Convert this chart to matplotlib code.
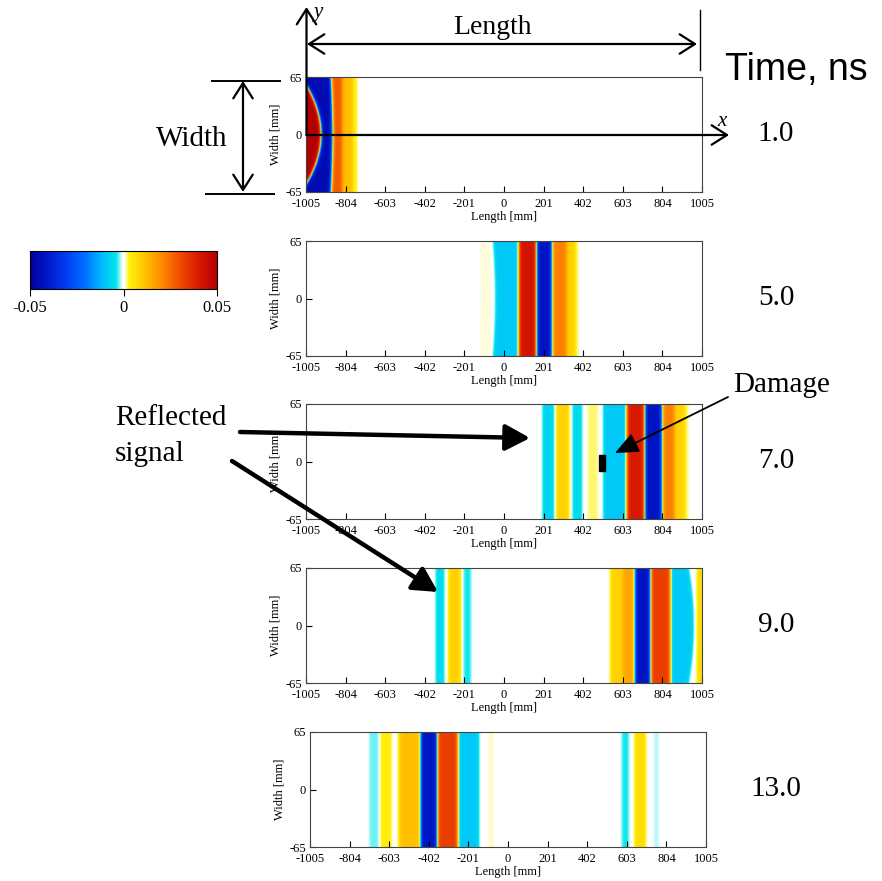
import numpy as np
import matplotlib
matplotlib.use("Agg")
import matplotlib.pyplot as plt
from matplotlib.colors import LinearSegmentedColormap
from matplotlib.patches import Rectangle, FancyArrowPatch

plt.rcParams['font.family'] = ['Liberation Serif', 'DejaVu Serif']
plt.rcParams['axes.unicode_minus'] = False

W, H = 882, 881

# ---- data -----------------------------------------------------------
# each snapshot: (edge at y=0 in mm, level to the right of the edge, edge bend at |y|=65)
times = ['1.0', '5.0', '7.0', '9.0', '13.0']
start_levels = [0.05, 0.0, 0.0, 0.0, 0.0]
bands_t1 = [(-929, -0.045, -100), (-872, 0.028, -8), (-822, 0.012, 0),
            (-768, 0.003, 0), (-745, 0.0, 0)]
bands_t5 = [(-125, 0.0008, 0), (-62, 0.0, 0), (-40, -0.009, -12),
            (76, 0.042, 0), (166, -0.042, 0), (243, 0.022, 0),
            (318, 0.009, 0), (362, 0.0015, 0), (380, 0.0, 0)]
bands_t7 = [(198, -0.007, 0), (252, 0.0, 0), (268, 0.009, 0), (328, 0.0, 0),
            (350, -0.006, 0), (395, 0.0, 0), (425, 0.002, 0), (478, 0.0, 0),
            (508, -0.009, 0), (624, 0.04, 0), (716, -0.042, 0),
            (802, 0.022, 0), (866, 0.009, 0), (918, 0.0015, 0), (940, 0.0, 0)]
bands_t9 = [(-345, -0.006, 0), (-305, 0.0, 0), (-280, 0.009, 0), (-222, 0.0, 0),
            (-205, -0.004, 0), (-168, 0.0, 0), (543, 0.009, 0), (604, 0.016, 0),
            (666, -0.042, 0), (744, 0.033, 0), (845, -0.009, 0),
            (960, 0.0, -25), (982, 0.007, 0)]
bands_t13 = [(-705, -0.0025, 0), (-655, 0.0, 0), (-648, 0.004, 0), (-592, 0.0, 0),
             (-552, 0.012, 0), (-442, -0.042, 0), (-360, 0.033, 0),
             (-255, -0.009, 0), (-150, 0.0, 0), (-100, 0.0012, 0), (-72, 0.0, 0),
             (578, -0.004, 0), (614, 0.0, 0), (645, 0.007, 0), (698, 0.0, 0),
             (740, -0.0015, 0), (768, 0.0, 0)]
all_bands = [bands_t1, bands_t5, bands_t7, bands_t9, bands_t13]

damage = (482, -11, 32, 18)  # x, y, width, height in mm
xticks = [-1005, -804, -603, -402, -201, 0, 201, 402, 603, 804, 1005]
yticks = [-65, 0, 65]
cbar_ticks = [-0.05, 0, 0.05]

# colormap: blue - cyan - white - yellow - red
cm_vals = [-0.05, -0.04, -0.03, -0.02, -0.012, -0.004, -0.0004, 0.0004,
           0.003, 0.01, 0.02, 0.03, 0.04, 0.05]
cm_cols = [(0.0, 0.0, 0.6), (0.0, 0.1, 0.8), (0.0, 0.25, 0.95), (0.0, 0.45, 1.0),
           (0.0, 0.72, 1.0), (0.0, 0.9, 0.92), (1, 1, 1), (1, 1, 1),
           (1.0, 0.95, 0.05), (1.0, 0.8, 0.0), (1.0, 0.55, 0.0), (0.95, 0.3, 0.0),
           (0.85, 0.1, 0.0), (0.7, 0.0, 0.0)]
cmap = LinearSegmentedColormap.from_list(
    'wave', [((v + 0.05) / 0.1, c) for v, c in zip(cm_vals, cm_cols)], N=2048)


def fr(x, y):
    return (x / W, 1 - y / H)


def rect(l, t, r, b):
    return [l / W, 1 - b / H, (r - l) / W, (b - t) / H]


fig = plt.figure(figsize=(W / 100, H / 100), dpi=100)

panel_px = [(306, 77, 702, 192), (306, 241, 702, 356), (306, 404, 702, 519),
            (306, 568, 702, 683), (310, 732, 706, 847)]
panel_mid = [134, 298, 461, 625, 789]

xg = np.linspace(-1005, 1005, 1200)
yg = np.linspace(-65, 65, 120)
X, Y = np.meshgrid(xg, yg)

im = None
for i, bands in enumerate(all_bands):
    ax = fig.add_axes(rect(*panel_px[i]))
    field = np.full(X.shape, start_levels[i])
    prev = start_levels[i]
    for edge, level, bend in bands:
        pos = edge + bend * (Y / 65.0) ** 2
        field += (level - prev) * 0.5 * (1 + np.tanh((X - pos) / 9.0))
        prev = level
    field[np.abs(field) < 1e-5] = 0.0
    im = ax.imshow(field, cmap=cmap, vmin=-0.05, vmax=0.05, aspect='auto',
                   origin='lower', extent=[-1005, 1005, -65, 65],
                   interpolation='bilinear')
    ax.set_xlim(-1005, 1005)
    ax.set_ylim(-65, 65)
    ax.set_xticks(xticks)
    ax.set_yticks(yticks)
    ax.tick_params(direction='in', length=4, width=0.8, labelsize=9, pad=3)
    ax.tick_params(axis='x', pad=4)
    ax.set_xlabel('Length [mm]', fontsize=9, labelpad=1)
    ax.set_ylabel('Width [mm]', fontsize=9, labelpad=3)
    for s in ax.spines.values():
        s.set_linewidth(0.8)
        s.set_color('#444444')
    if i == 2:
        ax.add_patch(Rectangle(damage[:2], damage[2], damage[3], color='black', zorder=5))
    fig.text(*fr(776, panel_mid[i]), times[i], fontsize=21, ha='center', va='center')

# colour bar
cax = fig.add_axes(rect(30, 251, 217, 289))
cb = fig.colorbar(im, cax=cax, orientation='horizontal', ticks=cbar_ticks)
cb.ax.set_xticklabels(['-0.05', '0', '0.05'])
cb.ax.tick_params(labelsize=12, length=5, width=0.8, pad=3)
cb.outline.set_linewidth(0.8)


# annotations
def arrow(p0, p1, style, lw, ms=20):
    fig.add_artist(FancyArrowPatch(
        fr(*p0), fr(*p1), transform=fig.transFigure, arrowstyle=style,
        lw=lw, color='black', mutation_scale=ms, shrinkA=0, shrinkB=0))


chev = '->,head_length=0.55,head_width=0.35'
arrow((306.5, 135), (306.5, 7), chev, 1.6)
arrow((306.5, 135), (729, 135), chev, 1.6)
arrow((307, 44), (697, 44), '<' + chev, 1.6)
arrow((243, 81), (243, 192), '<' + chev, 1.6)
fig.add_artist(plt.Line2D([699.5 / W] * 2, [1 - 10 / H, 1 - 70 / H], color='black', lw=1))
fig.add_artist(plt.Line2D([212 / W, 280 / W], [1 - 80.5 / H] * 2, color='black', lw=1.4))
fig.add_artist(plt.Line2D([206 / W, 274 / W], [1 - 193.5 / H] * 2, color='black', lw=1.4))

fig.text(*fr(318, 12), 'y', fontsize=15, style='italic', ha='center', va='center')
fig.text(*fr(722, 121), 'x', fontsize=15, style='italic', ha='center', va='center')
fig.text(*fr(492, 28), 'Length', fontsize=20, ha='center', va='center')
fig.text(*fr(192, 139), 'Width', fontsize=21, ha='center', va='center')
fig.text(*fr(725, 80), 'Time, ns', fontsize=27, ha='left', va='baseline',
         family=['Liberation Sans', 'DejaVu Sans'])

# damage + reflected signal
fig.text(*fr(782, 385), 'Damage', fontsize=21, ha='center', va='center')
arrow((728, 397), (615, 453), '-|>,head_length=0.8,head_width=0.35', 1.3, ms=18)
fig.text(*fr(115, 425), 'Reflected', fontsize=21, ha='left', va='baseline')
fig.text(*fr(115, 461), 'signal', fontsize=21, ha='left', va='baseline')
arrow((240, 432), (530, 438), '-|>,head_length=0.75,head_width=0.4', 3.2, ms=20)
arrow((232, 461), (438, 592), '-|>,head_length=0.75,head_width=0.4', 3.2, ms=20)

fig.savefig('out.png', dpi=100)
